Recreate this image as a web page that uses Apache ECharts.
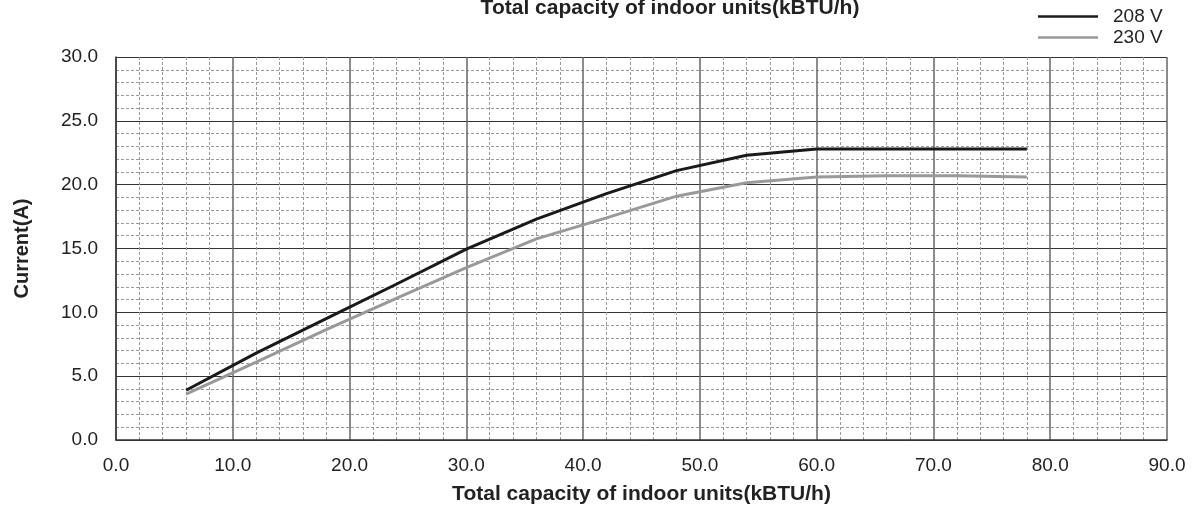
<!DOCTYPE html>
<html>
<head>
<meta charset="utf-8">
<script src="https://cdn.jsdelivr.net/npm/echarts@6/dist/echarts.min.js"></script>
<style>
html,body{margin:0;padding:0;background:#fff;}
#chart{width:1194px;height:510px;}
</style>
</head>
<body>
<div id="chart"></div>
<script>
const capacity = [6, 12, 18, 24, 30, 36, 42, 48, 54, 60, 66, 72, 78];
const current208 = [3.9, 6.8, 9.5, 12.2, 14.95, 17.3, 19.3, 21.1, 22.3, 22.8, 22.8, 22.8, 22.8];
const current230 = [3.6, 6.1, 8.65, 11.1, 13.5, 15.75, 17.4, 19.1, 20.15, 20.6, 20.7, 20.7, 20.6];
const seriesNames = ['208 V', '230 V'];
const xName = 'Total capacity of indoor units(kBTU/h)';
const yName = 'Current(A)';

const font = 'Arial, "Liberation Sans", Helvetica, sans-serif';
const chart = echarts.init(document.getElementById('chart'), null, {renderer: 'canvas'});
const pairs = (xs, ys) => xs.map((x, i) => [x, ys[i]]);

chart.setOption({
  animation: false,
  backgroundColor: '#fff',
  graphic: [{
    type: 'text', x: 670, y: 18.5,
    style: {text: xName, font: 'bold 21px ' + font, fill: '#222', align: 'center', verticalAlign: 'bottom'}
  }],
  legend: {
    orient: 'vertical', left: 1033, top: 2,
    icon: 'rect', itemWidth: 60, itemHeight: 2.5, itemGap: 2,
    textStyle: {fontFamily: font, fontSize: 19, color: '#222', padding: [0, 0, 0, 10]},
    data: seriesNames
  },
  grid: {left: 116, right: 27, top: 57, bottom: 70, outerBoundsMode: 'none', containLabel: false},
  xAxis: {
    type: 'value', min: 0, max: 90, interval: 10,
    name: xName, nameLocation: 'middle', nameGap: 44,
    nameTextStyle: {fontFamily: font, fontSize: 21, fontWeight: 'bold', color: '#222'},
    axisLine: {show: true, lineStyle: {color: '#333', width: 1.5}},
    axisTick: {show: false},
    axisLabel: {fontFamily: font, fontSize: 19, color: '#222', margin: 16, formatter: v => v.toFixed(1)},
    splitLine: {show: true, lineStyle: {color: '#666', width: 1.5}},
    minorTick: {show: false, splitNumber: 5},
    minorSplitLine: {show: true, lineStyle: {color: '#999', width: 1, type: [3, 2]}}
  },
  yAxis: {
    type: 'value', min: 0, max: 30, interval: 5,
    name: yName, nameLocation: 'middle', nameGap: 84, nameRotate: 90,
    nameTextStyle: {fontFamily: font, fontSize: 20, fontWeight: 'bold', color: '#222'},
    axisLine: {show: true, lineStyle: {color: '#333', width: 1.5}},
    axisTick: {show: false},
    axisLabel: {fontFamily: font, fontSize: 19, color: '#222', margin: 18, formatter: v => v.toFixed(1)},
    splitLine: {show: true, lineStyle: {color: '#333', width: 1}},
    minorTick: {show: false, splitNumber: 5},
    minorSplitLine: {show: true, lineStyle: {color: '#999', width: 1, type: [3, 2]}}
  },
  series: [
    {name: seriesNames[0], type: 'line', data: pairs(capacity, current208), symbol: 'none',
     lineStyle: {color: '#1a1a1a', width: 3}, itemStyle: {color: '#1a1a1a'}, z: 3},
    {name: seriesNames[1], type: 'line', data: pairs(capacity, current230), symbol: 'none',
     lineStyle: {color: '#999', width: 3}, itemStyle: {color: '#999'}, z: 2}
  ]
});
</script>
</body>
</html>
